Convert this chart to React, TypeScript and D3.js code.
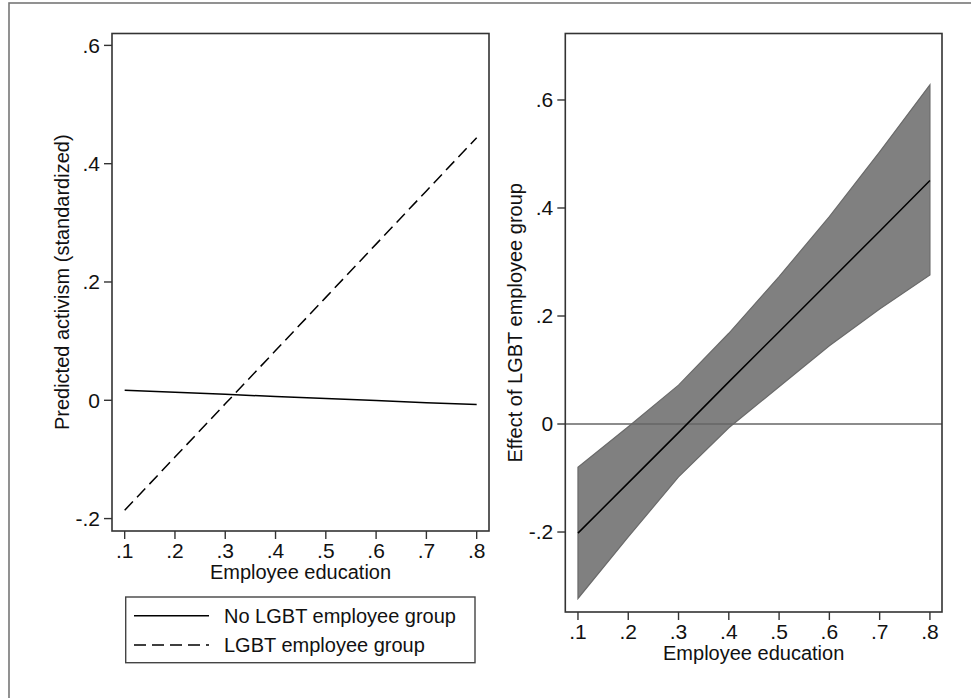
import React from "react";
import * as d3 from "d3";

// ---- data ----
const education = [0.1, 0.2, 0.3, 0.4, 0.5, 0.6, 0.7, 0.8];
const noGroup = [0.017, 0.0135, 0.010, 0.0065, 0.003, -0.0005, -0.004, -0.007];
const withGroup = [-0.186, -0.096, -0.006, 0.084, 0.174, 0.264, 0.354, 0.444];
const effect = [-0.202, -0.109, -0.016, 0.078, 0.171, 0.264, 0.357, 0.451];
const effectUpper = [-0.080, -0.005, 0.072, 0.168, 0.273, 0.384, 0.504, 0.628];
const effectLower = [-0.323, -0.209, -0.098, -0.007, 0.069, 0.145, 0.213, 0.276];

const xTickValues = [0.1, 0.2, 0.3, 0.4, 0.5, 0.6, 0.7, 0.8];
const leftYTicks = [-0.2, 0, 0.2, 0.4, 0.6];
const rightYTicks = [-0.2, 0, 0.2, 0.4, 0.6];
const legendLabels = ["No LGBT employee group", "LGBT employee group"];
const xTitle = "Employee education";
const leftYTitle = "Predicted activism (standardized)";
const rightYTitle = "Effect of LGBT employee group";

const FONT = "Arial, 'Liberation Sans', Helvetica, sans-serif";
const TICK_FS = 21;
const TITLE_FS = 20;

const fmt = (v: number) => {
  if (Math.abs(v) < 1e-9) return "0";
  return v.toFixed(1).replace(/^(-?)0\./, "$1.");
};

type Pt = { x: number; y: number };

function Panel(props: {
  left: number; top: number; right: number; bottom: number;
  xDomain: [number, number]; yDomain: [number, number];
  yTicks: number[]; yTitle: string; yTitleX: number;
  children: (x: d3.ScaleLinear<number, number>, y: d3.ScaleLinear<number, number>) => React.ReactNode;
}) {
  const { left, top, right, bottom } = props;
  const x = d3.scaleLinear().domain(props.xDomain).range([left, right]);
  const y = d3.scaleLinear().domain(props.yDomain).range([bottom, top]);
  return (
    <g>
      {props.children(x, y)}
      <rect x={left} y={top} width={right - left} height={bottom - top} fill="none" stroke="#333" strokeWidth={1.6} />
      {props.yTicks.map((t) => (
        <g key={"y" + t}>
          <line x1={left - 8} x2={left} y1={y(t)} y2={y(t)} stroke="#333" strokeWidth={1.4} />
          <text x={left - 12} y={y(t)} dy="0.35em" textAnchor="end" fontSize={TICK_FS} fontFamily={FONT} fill="#111">{fmt(t)}</text>
        </g>
      ))}
      {xTickValues.map((t) => (
        <g key={"x" + t}>
          <line x1={x(t)} x2={x(t)} y1={bottom} y2={bottom + 8} stroke="#333" strokeWidth={1.4} />
          <text x={x(t)} y={bottom + 27} textAnchor="middle" fontSize={TICK_FS} fontFamily={FONT} fill="#111">{fmt(t)}</text>
        </g>
      ))}
      <text x={(left + right) / 2} y={bottom + 48} textAnchor="middle" fontSize={TITLE_FS} fontFamily={FONT} fill="#111">{xTitle}</text>
      <text transform={`translate(${props.yTitleX},${(top + bottom) / 2}) rotate(-90)`} textAnchor="middle" fontSize={TITLE_FS} fontFamily={FONT} fill="#111">{props.yTitle}</text>
    </g>
  );
}

export default function App() {
  const pts = (ys: number[]): Pt[] => education.map((e, i) => ({ x: e, y: ys[i] }));
  return (
    <svg width={971} height={698} style={{ position: "absolute", left: 0, top: 0, background: "#fff" }}>
      <rect x={0} y={0} width={971} height={698} fill="#fff" />
      <rect x={9} y={3} width={1100} height={1100} fill="none" stroke="#777" strokeWidth={1.6} />

      {/* left panel */}
      <Panel left={112} top={33.5} right={489} bottom={531}
        xDomain={[0.0748, 0.8245]} yDomain={[-0.2210, 0.6201]}
        yTicks={leftYTicks} yTitle={leftYTitle} yTitleX={68.5}>
        {(x, y) => {
          const line = d3.line<Pt>().x((d) => x(d.x)).y((d) => y(d.y));
          return (
            <g>
              <path d={line(pts(noGroup)) || ""} fill="none" stroke="#000" strokeWidth={1.5} />
              <path d={line(pts(withGroup)) || ""} fill="none" stroke="#000" strokeWidth={1.5} strokeDasharray="12,6" />
            </g>
          );
        }}
      </Panel>

      {/* legend */}
      <g>
        <rect x={125.7} y={597} width={349.3} height={65.7} fill="#fff" stroke="#444" strokeWidth={1.4} />
        {legendLabels.map((lab, i) => {
          const yy = i === 0 ? 615.7 : 645;
          return (
            <g key={lab}>
              <line x1={134} x2={209} y1={yy} y2={yy} stroke="#000" strokeWidth={1.5} strokeDasharray={i === 0 ? undefined : "12,6"} />
              <text x={224} y={yy} dy="0.35em" fontSize={TITLE_FS} fontFamily={FONT} fill="#111">{lab}</text>
            </g>
          );
        })}
      </g>

      {/* right panel */}
      <Panel left={565.3} top={33.5} right={942} bottom={612}
        xDomain={[0.0748, 0.8240]} yDomain={[-0.3481, 0.7231]}
        yTicks={rightYTicks} yTitle={rightYTitle} yTitleX={521.7}>
        {(x, y) => {
          const area = d3.area<number>()
            .x((_, i) => x(education[i]))
            .y0((_, i) => y(effectLower[i]))
            .y1((_, i) => y(effectUpper[i]));
          const line = d3.line<Pt>().x((d) => x(d.x)).y((d) => y(d.y));
          return (
            <g>
              <path d={area(education) || ""} fill="#808080" stroke="#6a6a6a" strokeWidth={1.2} />
              <line x1={x.range()[0]} x2={x.range()[1]} y1={y(0)} y2={y(0)} stroke="#666" strokeWidth={1.6} />
              <path d={line(pts(effect)) || ""} fill="none" stroke="#000" strokeWidth={1.5} />
            </g>
          );
        }}
      </Panel>
    </svg>
  );
}
